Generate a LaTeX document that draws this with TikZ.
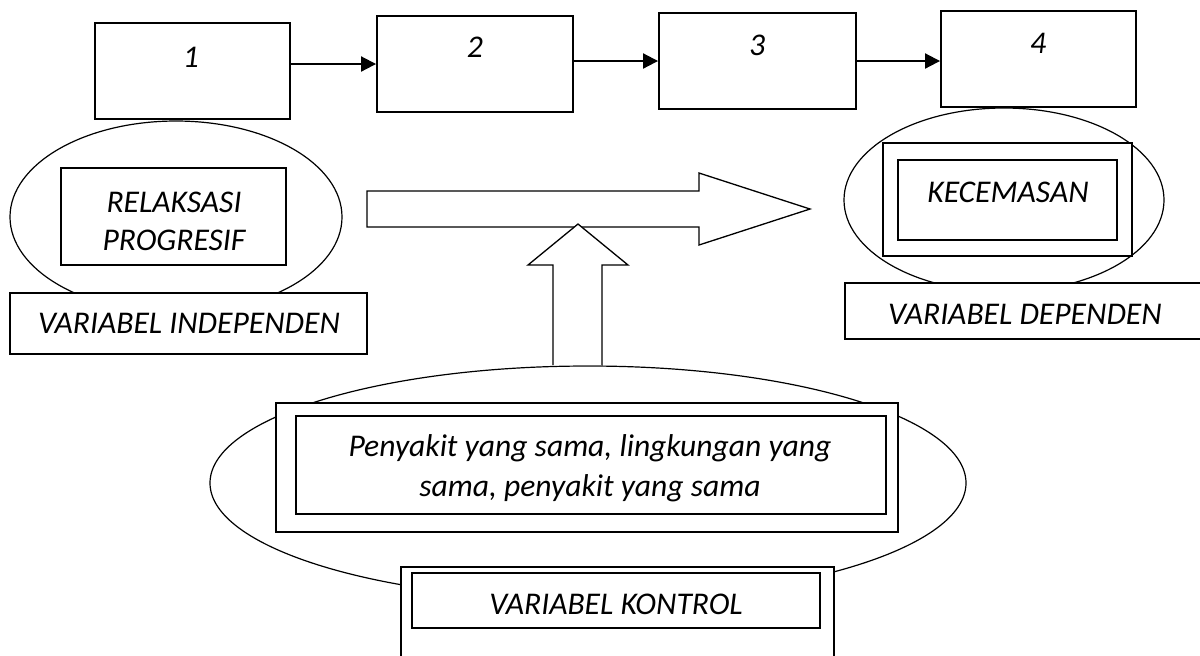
\documentclass[tikz,border=0pt]{standalone}
\usepackage{fontspec}
\setmainfont{Carlito}
\usetikzlibrary{shapes.geometric,arrows.meta}
\begin{document}
\begin{tikzpicture}[x=0.5pt,y=-0.5pt,
  box/.style={draw,line width=0.95pt,fill=white,inner sep=0pt},
  oval/.style={draw,ellipse,line width=0.6pt,inner sep=0pt},
  blockarrow/.style={draw,fill=white,line width=0.65pt,line join=miter},
  link/.style={line width=1pt,-{Triangle[length=7.5pt,width=7.5pt]}},
  txt/.style={font=\fontsize{15.8}{19}\selectfont\itshape,inner sep=0pt,align=center}]
\useasboundingbox (0,0) rectangle (1200,655);
\clip (0,0) rectangle (1200,655);
% ellipses
\node[oval,minimum width=166pt,minimum height=96pt] (eL) at (176,217) {};
\node[oval,minimum width=160pt,minimum height=92pt] (eR) at (1004,200) {};
\node[oval,minimum width=378pt,minimum height=117pt] (eB) at (588,483) {};
% top boxes
\node[box,minimum width=97.5pt,minimum height=48pt] (b1) at (192.5,71) {};
\node[box,minimum width=98pt,minimum height=48pt] (b2) at (475,64) {};
\node[box,minimum width=98.5pt,minimum height=48pt] (b3) at (757.5,61) {};
\node[box,minimum width=97.5pt,minimum height=48pt] (b4) at (1038.5,59) {};
\node[txt] (t1) at (191,57) {1};
\node[txt] (t2) at (475,47) {2};
\node[txt] (t3) at (757,45) {3};
\node[txt] (t4) at (1038,43) {4};
\draw[link] (b2.west -| b1.east) -- (b2.west);
\draw[link] (b3.west -| b2.east) -- (b3.west);
\draw[link] (b3.east) -- (b3.east -| b4.west);
% left group
\node[box,minimum width=112.5pt,minimum height=48.5pt] (rel) at (173.5,216.5) {};
\node[txt] (trel) at (174,221) {RELAKSASI\\PROGRESIF};
\node[box,minimum width=178.5pt,minimum height=30.5pt] (ind) at (188.5,323.5) {};
\node[txt] (tind) at (189,323) {VARIABEL INDEPENDEN};
% right group
\node[box,minimum width=124.5pt,minimum height=56.5pt] (kout) at (1007.5,199.5) {};
\node[box,minimum width=109.5pt,minimum height=40pt] (kin) at (1007.5,200) {};
\node[txt] (tkec) at (1008,192) {KECEMASAN};
\node[box,minimum width=185pt,minimum height=28pt] (dep) at (1030,311) {};
\node[txt] (tdep) at (1025,314) {VARIABEL DEPENDEN};
% bottom group
\node[box,minimum width=311pt,minimum height=64.5pt] (pout) at (587,467.5) {};
\node[box,minimum width=295pt,minimum height=49pt] (pin) at (591,465) {};
\node[txt,font=\fontsize{15.8}{20}\selectfont\itshape] (tpen) at (590,468) {Penyakit yang sama, lingkungan yang\\sama, penyakit yang sama};
\node[box,minimum width=216.5pt,minimum height=66.5pt] (kon) at (617.5,633.5) {};
\node[box,minimum width=204pt,minimum height=27.5pt] (konin) at (616,600.5) {};
\node[txt] (tkon) at (616,604) {VARIABEL KONTROL};
% block arrows
\draw[blockarrow] (367,191) -- (699,191) -- (699,173) -- (810,209) -- (699,245) -- (699,227) -- (367,227) -- cycle;
\filldraw[blockarrow] (553,365) -- (553,265) -- (528,265) -- (578,224) -- (628,265) -- (602,265) -- (602,365);
\end{tikzpicture}
\end{document}
